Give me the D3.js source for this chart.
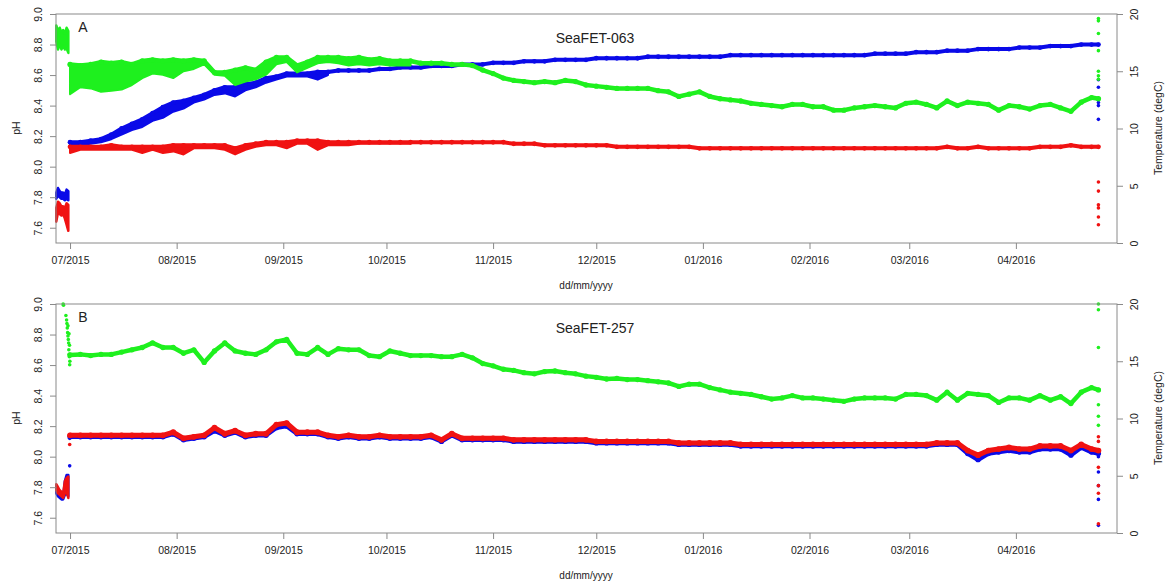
<!DOCTYPE html>
<html>
<head>
<meta charset="utf-8">
<script src="https://cdn.jsdelivr.net/npm/d3@7"></script>
<style>
  body { margin: 0; background: #fff; }
  svg text { font-family: "Liberation Sans", Arial, sans-serif; fill: #222; }
</style>
</head>
<body>
<svg id="chart" width="1168" height="583"></svg>
<script>
// sample days counted from 01/07/2015, every 3 days plus the last reading
const sampleDays = d3.range(0, 298, 3).concat([299]);
const preDays = d3.range(-4, 0, 0.5);

const phTicks = [7.6, 7.8, 8.0, 8.2, 8.4, 8.6, 8.8, 9.0];
const tempTicks = [0, 5, 10, 15, 20];

// ---- SeaFET-063 ----
const greenA = [
  15.6, 15.5, 15.6, 15.8, 15.7, 15.8, 15.6, 15.9, 16.0, 15.9,
  16.0, 15.9, 16.0, 15.9, 14.9, 14.9, 15.1, 15.3, 15.1, 15.8,
  16.2, 16.2, 15.5, 15.8, 16.2, 16.2, 16.2, 16.1, 16.2, 16.0,
  16.1, 15.9, 15.9, 15.9, 15.7, 15.7, 15.7, 15.6, 15.6, 15.5,
  15.1, 14.8, 14.4, 14.2, 14.1, 14.0, 14.1, 14.0, 14.2, 14.1,
  13.8, 13.7, 13.6, 13.5, 13.5, 13.5, 13.5, 13.3, 13.2, 12.8,
  13.0, 13.2, 12.8, 12.6, 12.5, 12.4, 12.2, 12.1, 12.0, 11.9,
  12.1, 12.1, 11.9, 11.9, 11.6, 11.6, 11.8, 11.9, 12.0, 11.9,
  11.8, 12.2, 12.3, 12.1, 11.8, 12.4, 12.0, 12.3, 12.2, 12.1,
  11.6, 12.0, 11.9, 11.7, 12.0, 12.1, 11.8, 11.5, 12.3, 12.7,
  12.6
];
const greenALow = [
  13.0, 13.6, 13.5, 13.2, 13.3, 13.4, 13.8, 14.4, 14.8, 14.7,
  14.4, 15.0, 15.2, 15.6, 14.7, 14.6, 13.8, 14.1, 14.3, 14.7,
  15.6, 15.8, 14.9, 15.3, 15.7, 15.8, 15.7, 15.5, 15.6, 15.5,
  15.6, 15.5, 15.5, 15.5
];
const blueA = [
  8.16, 8.16, 8.17, 8.18, 8.21, 8.25, 8.28, 8.31, 8.35, 8.39,
  8.42, 8.43, 8.45, 8.47, 8.50, 8.52, 8.52, 8.54, 8.55, 8.58,
  8.59, 8.61, 8.61, 8.61, 8.62, 8.62, 8.63, 8.63, 8.63, 8.63,
  8.64, 8.64, 8.65, 8.65, 8.65, 8.66, 8.66, 8.66, 8.67, 8.67,
  8.67, 8.68, 8.68, 8.68, 8.69, 8.69, 8.69, 8.70, 8.70, 8.70,
  8.70, 8.71, 8.71, 8.71, 8.71, 8.71, 8.72, 8.72, 8.72, 8.72,
  8.72, 8.72, 8.72, 8.72, 8.73, 8.73, 8.73, 8.73, 8.73, 8.73,
  8.73, 8.73, 8.73, 8.73, 8.73, 8.73, 8.73, 8.73, 8.74, 8.74,
  8.74, 8.74, 8.75, 8.75, 8.75, 8.76, 8.76, 8.76, 8.77, 8.77,
  8.77, 8.77, 8.78, 8.78, 8.78, 8.79, 8.79, 8.79, 8.80, 8.80,
  8.80
];
const blueALow = [
  8.14, 8.14, 8.15, 8.16, 8.18, 8.21, 8.24, 8.26, 8.30, 8.32,
  8.36, 8.38, 8.42, 8.44, 8.47, 8.48, 8.46, 8.50, 8.52, 8.55,
  8.57, 8.59, 8.59, 8.59, 8.57, 8.60
];
const redA = [
  8.13, 8.13, 8.13, 8.13, 8.14, 8.13, 8.13, 8.13, 8.13, 8.13,
  8.14, 8.14, 8.14, 8.14, 8.14, 8.14, 8.12, 8.14, 8.15, 8.16,
  8.16, 8.16, 8.17, 8.17, 8.17, 8.16, 8.16, 8.16, 8.16, 8.16,
  8.16, 8.16, 8.16, 8.16, 8.16, 8.16, 8.16, 8.16, 8.16, 8.16,
  8.16, 8.16, 8.16, 8.15, 8.15, 8.15, 8.14, 8.14, 8.14, 8.14,
  8.14, 8.14, 8.14, 8.13, 8.13, 8.13, 8.13, 8.13, 8.13, 8.13,
  8.13, 8.12, 8.12, 8.12, 8.12, 8.12, 8.12, 8.12, 8.12, 8.12,
  8.12, 8.12, 8.12, 8.12, 8.12, 8.12, 8.12, 8.12, 8.12, 8.12,
  8.12, 8.12, 8.12, 8.12, 8.12, 8.13, 8.12, 8.12, 8.13, 8.12,
  8.12, 8.12, 8.12, 8.12, 8.13, 8.13, 8.13, 8.14, 8.13, 8.13,
  8.13
];
const redALow = [
  8.09, 8.11, 8.11, 8.11, 8.11, 8.11, 8.11, 8.09, 8.11, 8.09,
  8.10, 8.08, 8.12, 8.12, 8.12, 8.11, 8.08, 8.11, 8.13, 8.14,
  8.14, 8.12, 8.15, 8.15, 8.11, 8.14, 8.14, 8.14, 8.15, 8.15,
  8.15, 8.15, 8.15, 8.15
];
// before deployment (27-30/06/2015)
const preGreenAHi = [19.0, 18.5, 18.8, 18.4, 18.6, 18.3, 18.8, 18.5];
const preGreenALo = [17.6, 16.9, 17.4, 16.9, 17.2, 16.9, 17.0, 16.6];
const preBlueAHi = [7.83, 7.86, 7.84, 7.83, 7.83, 7.82, 7.85, 7.84];
const preBlueALo = [7.79, 7.81, 7.80, 7.79, 7.79, 7.78, 7.79, 7.78];
const preRedAHi = [7.73, 7.77, 7.76, 7.74, 7.74, 7.73, 7.76, 7.75];
const preRedALo = [7.64, 7.70, 7.69, 7.68, 7.69, 7.66, 7.62, 7.58];
// stray readings at recovery
const endGreenA = [19.6, 19.4, 18.3, 16.8, 15.0, 14.6, 14.3];
const endBlueA = [8.57, 8.52, 8.42, 8.40, 8.31];
const endRedA = [7.90, 7.84, 7.75, 7.73, 7.67, 7.62];

// ---- SeaFET-257 ----
const greenB = [
  15.55, 15.6, 15.5, 15.6, 15.6, 15.8, 16.0, 16.2, 16.6, 16.2,
  16.2, 15.7, 16.0, 14.9, 15.9, 16.6, 15.9, 15.7, 15.6, 16.0,
  16.7, 16.9, 15.7, 15.6, 16.2, 15.6, 16.1, 16.0, 16.0, 15.5,
  15.4, 15.9, 15.7, 15.5, 15.5, 15.5, 15.4, 15.4, 15.6, 15.3,
  14.8, 14.6, 14.3, 14.2, 14.0, 13.9, 14.1, 14.15, 14.0, 13.9,
  13.7, 13.6, 13.45, 13.5, 13.4, 13.4, 13.3, 13.2, 13.1, 12.8,
  13.0, 13.0, 12.7, 12.5, 12.3, 12.2, 12.1, 11.9, 11.7, 11.8,
  12.0, 11.8, 11.8, 11.7, 11.6, 11.5, 11.7, 11.8, 11.8, 11.8,
  11.7, 12.1, 12.1, 12.0, 11.6, 12.3, 11.6, 12.2, 12.1, 12.0,
  11.4, 11.8, 11.8, 11.6, 12.0, 11.6, 11.9, 11.3, 12.3, 12.7,
  12.5
];
const blueB = [
  8.13, 8.13, 8.13, 8.13, 8.13, 8.13, 8.13, 8.13, 8.13, 8.13,
  8.15, 8.11, 8.12, 8.13, 8.17, 8.14, 8.16, 8.13, 8.14, 8.14,
  8.19, 8.20, 8.15, 8.15, 8.15, 8.13, 8.12, 8.13, 8.12, 8.12,
  8.13, 8.12, 8.12, 8.12, 8.12, 8.13, 8.10, 8.14, 8.11, 8.11,
  8.11, 8.11, 8.11, 8.10, 8.10, 8.10, 8.10, 8.10, 8.10, 8.10,
  8.10, 8.09, 8.09, 8.09, 8.09, 8.09, 8.09, 8.09, 8.09, 8.08,
  8.08, 8.08, 8.08, 8.08, 8.08, 8.07, 8.07, 8.07, 8.07, 8.07,
  8.07, 8.07, 8.07, 8.07, 8.07, 8.07, 8.07, 8.07, 8.07, 8.07,
  8.07, 8.07, 8.07, 8.07, 8.08, 8.08, 8.08, 8.02, 7.98, 8.02,
  8.03, 8.04, 8.03, 8.03, 8.05, 8.05, 8.05, 8.01, 8.06, 8.03,
  8.02
];
const redB = [
  8.14, 8.14, 8.14, 8.14, 8.14, 8.14, 8.14, 8.14, 8.14, 8.14,
  8.16, 8.12, 8.13, 8.14, 8.19, 8.15, 8.17, 8.14, 8.15, 8.15,
  8.21, 8.22, 8.16, 8.16, 8.16, 8.14, 8.13, 8.14, 8.13, 8.13,
  8.14, 8.13, 8.13, 8.13, 8.13, 8.14, 8.11, 8.15, 8.12, 8.12,
  8.12, 8.12, 8.12, 8.11, 8.11, 8.11, 8.11, 8.11, 8.11, 8.11,
  8.11, 8.10, 8.10, 8.10, 8.10, 8.10, 8.10, 8.10, 8.10, 8.09,
  8.09, 8.09, 8.09, 8.09, 8.09, 8.08, 8.08, 8.08, 8.08, 8.08,
  8.08, 8.08, 8.08, 8.08, 8.08, 8.08, 8.08, 8.08, 8.08, 8.08,
  8.08, 8.08, 8.08, 8.08, 8.09, 8.09, 8.09, 8.04, 8.01, 8.04,
  8.05, 8.06, 8.05, 8.05, 8.07, 8.07, 8.07, 8.04, 8.08, 8.05,
  8.04
];
const preBlueBHi = [7.80, 7.77, 7.75, 7.75, 7.74, 7.84, 7.88, 7.88];
const preBlueBLo = [7.76, 7.74, 7.73, 7.72, 7.72, 7.75, 7.76, 7.74];
const preRedBHi = [7.82, 7.80, 7.78, 7.77, 7.76, 7.84, 7.86, 7.87];
const preRedBLo = [7.78, 7.76, 7.75, 7.74, 7.73, 7.76, 7.77, 7.73];
// [day, degC] scatter while sensor warms up
const preGreenB = [
  [-2.0, 20.0], [-1.9, 19.9], [-1.2, 19.0], [-1.0, 18.6], [-0.9, 18.3], [-0.8, 17.9],
  [-0.7, 17.5], [-0.6, 17.2], [-0.6, 18.1], [-0.5, 16.9], [-0.4, 16.6], [-0.35, 16.0],
  [-0.3, 17.4], [-0.25, 15.6], [-0.2, 15.4], [-0.15, 16.4], [-0.1, 14.7], [-0.05, 15.0]
];
const startBlueB = [7.94, 8.12];
const startRedB = [8.08];
const endGreenB = [20.0, 19.5, 16.2, 11.2, 10.2, 9.4];
const endBlueB = [8.00, 7.90, 7.81, 7.72, 7.55];
const endRedB = [8.13, 8.10, 7.93, 7.81, 7.76, 7.56];

const GREEN = "#1ef01e", BLUE = "#0a0ae8", RED = "#f01212";

const svg = d3.select("#chart");
const left = 56, right = 1117, plotH = 229;
const t0 = Date.UTC(2015, 6, 1);
const dayToDate = d => new Date(t0 + d * 864e5);

const x = d3.scaleUtc()
  .domain([dayToDate(-4.08), dayToDate(304.4)])
  .range([left, right]);

const panels = [
  {
    top: 14, letter: "A", title: "SeaFET-063",
    series: [
      { vals: blueA, low: blueALow, preHi: preBlueAHi, preLo: preBlueALo, end: endBlueA, color: BLUE, axis: "ph", w: 4 },
      { vals: redA, low: redALow, preHi: preRedAHi, preLo: preRedALo, end: endRedA, color: RED, axis: "ph", w: 4 },
      { vals: greenA, low: greenALow, preHi: preGreenAHi, preLo: preGreenALo, end: endGreenA, color: GREEN, axis: "temp", w: 4.5 }
    ]
  },
  {
    top: 304, letter: "B", title: "SeaFET-257",
    series: [
      { vals: blueB, preHi: preBlueBHi, preLo: preBlueBLo, start: startBlueB, end: endBlueB, color: BLUE, axis: "ph", w: 4.5 },
      { vals: redB, preHi: preRedBHi, preLo: preRedBLo, start: startRedB, end: endRedB, color: RED, axis: "ph", w: 5 },
      { vals: greenB, scatter: preGreenB, end: endGreenB, color: GREEN, axis: "temp", w: 4.5 }
    ]
  }
];

panels.forEach(drawPanel);

function drawPanel(p) {
  const top = p.top, bottom = top + plotH;
  const g = svg.append("g");
  const yPh = d3.scaleLinear().domain([7.5, 9.0]).range([bottom, top]);
  const yTemp = d3.scaleLinear().domain([0, 20]).range([bottom, top]);

  // data first, box and axes drawn over the edges
  p.series.forEach(s => {
    const y = s.axis === "ph" ? yPh : yTemp;
    const sg = g.append("g");

    if (s.preHi) {
      const pre = preDays.map((d, i) => ({ d, hi: s.preHi[i], lo: s.preLo[i] }));
      sg.append("path")
        .datum(pre)
        .attr("d", d3.area().x(d => x(dayToDate(d.d))).y0(d => y(d.lo)).y1(d => y(d.hi)))
        .attr("fill", s.color)
        .attr("stroke", s.color)
        .attr("stroke-width", 2.5)
        .attr("stroke-linejoin", "round");
    }

    if (s.low) {
      const band = s.low.map((v, i) => ({ d: sampleDays[i], lo: v, hi: s.vals[i] }));
      sg.append("path")
        .datum(band)
        .attr("d", d3.area().x(d => x(dayToDate(d.d))).y0(d => y(d.lo)).y1(d => y(d.hi)))
        .attr("fill", s.color)
        .attr("stroke", s.color)
        .attr("stroke-width", 2)
        .attr("stroke-linejoin", "round");
    }

    const pts = sampleDays.map((d, i) => ({ d, v: s.vals[i] }));
    sg.append("path")
      .datum(pts)
      .attr("d", d3.line().x(d => x(dayToDate(d.d))).y(d => y(d.v)))
      .attr("fill", "none")
      .attr("stroke", s.color)
      .attr("stroke-width", s.w)
      .attr("stroke-linejoin", "round")
      .attr("stroke-linecap", "round");

    sg.selectAll(".pt")
      .data(pts)
      .enter()
      .append("circle")
      .attr("cx", d => x(dayToDate(d.d)))
      .attr("cy", d => y(d.v))
      .attr("r", s.w / 2 + 0.4)
      .attr("fill", s.color);

    const loose = [];
    (s.scatter || []).forEach(([d, v]) => loose.push({ d, v }));
    (s.start || []).forEach(v => loose.push({ d: -0.1, v }));
    (s.end || []).forEach(v => loose.push({ d: 299, v }));
    sg.selectAll(".loose")
      .data(loose)
      .enter()
      .append("circle")
      .attr("cx", d => x(dayToDate(d.d)))
      .attr("cy", d => y(d.v))
      .attr("r", 1.8)
      .attr("fill", s.color);
  });

  // box
  g.append("rect")
    .attr("x", left)
    .attr("y", top)
    .attr("width", right - left)
    .attr("height", plotH)
    .attr("fill", "none")
    .attr("stroke", "#8a8a8a")
    .attr("stroke-width", 1);

  // left pH axis
  const axL = g.append("g")
    .attr("transform", `translate(${left},0)`)
    .call(d3.axisLeft(yPh).tickValues(phTicks).tickSize(6).tickFormat(d3.format(".1f")));
  axL.select(".domain").remove();
  axL.selectAll("line").attr("stroke", "#8a8a8a");
  axL.selectAll("text")
    .attr("x", 0).attr("y", -14).attr("dy", null)
    .attr("transform", "rotate(-90)")
    .style("text-anchor", "middle")
    .style("font-size", "10.5px")
    .attr("fill", "#333");

  // right temperature axis
  const axR = g.append("g")
    .attr("transform", `translate(${right},0)`)
    .call(d3.axisRight(yTemp).tickValues(tempTicks).tickSize(6));
  axR.select(".domain").remove();
  axR.selectAll("line").attr("stroke", "#8a8a8a");
  axR.selectAll("text")
    .attr("x", 0).attr("y", 21).attr("dy", null)
    .attr("transform", "rotate(-90)")
    .style("text-anchor", "middle")
    .style("font-size", "10.5px")
    .attr("fill", "#333");

  // bottom date axis
  const axB = g.append("g")
    .attr("transform", `translate(0,${bottom})`)
    .call(d3.axisBottom(x).ticks(d3.utcMonth.every(1)).tickFormat(d3.utcFormat("%m/%Y")).tickSize(6).tickPadding(8));
  axB.select(".domain").remove();
  axB.selectAll("line").attr("stroke", "#8a8a8a");
  axB.selectAll("text")
    .style("font-size", "10.5px")
    .attr("fill", "#333");

  // titles
  g.append("text")
    .attr("transform", `translate(16,${top + 114}) rotate(-90)`)
    .attr("text-anchor", "middle")
    .attr("dy", "0.35em")
    .style("font-size", "10.5px")
    .text("pH");

  g.append("text")
    .attr("transform", `translate(1158,${top + 114}) rotate(-90)`)
    .attr("text-anchor", "middle")
    .attr("dy", "0.35em")
    .style("font-size", "10.5px")
    .text("Temperature (degC)");

  g.append("text")
    .attr("x", 586)
    .attr("y", bottom + 42)
    .attr("text-anchor", "middle")
    .attr("dy", "0.35em")
    .style("font-size", "10px")
    .text("dd/mm/yyyy");

  g.append("text")
    .attr("x", 83)
    .attr("y", top + 13)
    .attr("text-anchor", "middle")
    .attr("dy", "0.35em")
    .style("font-size", "14px")
    .text(p.letter);

  g.append("text")
    .attr("x", 595)
    .attr("y", top + 24)
    .attr("text-anchor", "middle")
    .attr("dy", "0.35em")
    .style("font-size", "14px")
    .text(p.title);
}
</script>
</body>
</html>
